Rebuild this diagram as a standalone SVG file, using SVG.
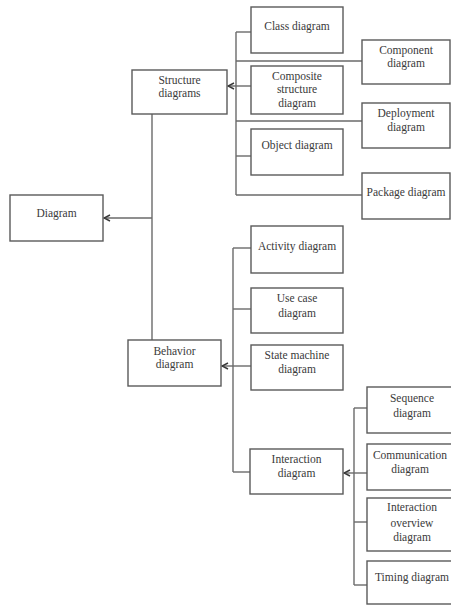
<svg xmlns="http://www.w3.org/2000/svg" width="451" height="606" viewBox="0 0 451 606">
  <style>
    .box { fill: #ffffff; stroke: #5a5a5a; stroke-width: 1.4; }
    .lbl { font-family: "Liberation Serif", "Times New Roman", serif; font-size: 11.5px; fill: #3a3a3a; text-anchor: middle; }
    .wire { fill: none; stroke: #6a6a6a; stroke-width: 1.4; }
  </style>
  <defs>
    <!-- small open arrowhead, tip at the end of the path -->
    <marker id="head" viewBox="0 0 8 8" refX="7" refY="4" markerWidth="8" markerHeight="8" markerUnits="userSpaceOnUse" orient="auto">
      <path d="M1,1 L7,4 L1,7" fill="none" stroke="#3a3a3a" stroke-width="1.5"/>
    </marker>
  </defs>
  <rect width="451" height="606" fill="#ffffff"/>

  <g id="connectors">
    <!-- root bus: structure / behavior to Diagram -->
    <path class="wire" d="M152,114 V340"/>
    <path class="wire" d="M152,218 H104" marker-end="url(#head)"/>

    <!-- structure bus -->
    <path class="wire" d="M236,32 V195"/>
    <path class="wire" d="M236,32 H251"/>
    <path class="wire" d="M236,61 H362"/>
    <path class="wire" d="M251,86 H228" marker-end="url(#head)"/>
    <path class="wire" d="M236,121 H362"/>
    <path class="wire" d="M236,156 H251"/>
    <path class="wire" d="M236,195 H362"/>

    <!-- behavior bus -->
    <path class="wire" d="M233,248 V472"/>
    <path class="wire" d="M233,248 H251"/>
    <path class="wire" d="M233,309 H251"/>
    <path class="wire" d="M251,366 H222" marker-end="url(#head)"/>
    <path class="wire" d="M233,472 H250"/>

    <!-- interaction bus -->
    <path class="wire" d="M354,408 V585"/>
    <path class="wire" d="M354,408 H367"/>
    <path class="wire" d="M367,473 H344" marker-end="url(#head)"/>
    <path class="wire" d="M354,522 H367"/>
    <path class="wire" d="M354,585 H367"/>
  </g>

  <g id="diagram">
    <rect class="box" x="10" y="195" width="93" height="46"/>
    <text class="lbl" x="56.5" y="217">Diagram</text>
  </g>

  <g id="structure">
    <rect class="box" x="132" y="70" width="95" height="44"/>
    <text class="lbl" x="179.5" y="84">Structure</text>
    <text class="lbl" x="179.5" y="97">diagrams</text>
  </g>

  <g id="behavior">
    <rect class="box" x="128" y="340" width="93" height="46"/>
    <text class="lbl" x="174.5" y="355">Behavior</text>
    <text class="lbl" x="174.5" y="368">diagram</text>
  </g>

  <g id="class">
    <rect class="box" x="251" y="7" width="92" height="46"/>
    <text class="lbl" x="297" y="30">Class diagram</text>
  </g>

  <g id="component">
    <rect class="box" x="362" y="40" width="88" height="44"/>
    <text class="lbl" x="406" y="54">Component</text>
    <text class="lbl" x="406" y="67">diagram</text>
  </g>

  <g id="composite">
    <rect class="box" x="251" y="66" width="92" height="48"/>
    <text class="lbl" x="297" y="80">Composite</text>
    <text class="lbl" x="297" y="93">structure</text>
    <text class="lbl" x="297" y="107">diagram</text>
  </g>

  <g id="deployment">
    <rect class="box" x="362" y="103" width="88" height="45"/>
    <text class="lbl" x="406" y="117">Deployment</text>
    <text class="lbl" x="406" y="131">diagram</text>
  </g>

  <g id="object">
    <rect class="box" x="251" y="129" width="92" height="46"/>
    <text class="lbl" x="297" y="149">Object diagram</text>
  </g>

  <g id="package">
    <rect class="box" x="362" y="173" width="88" height="46"/>
    <text class="lbl" x="406" y="196">Package diagram</text>
  </g>

  <g id="activity">
    <rect class="box" x="251" y="226" width="92" height="47"/>
    <text class="lbl" x="297" y="250">Activity diagram</text>
  </g>

  <g id="usecase">
    <rect class="box" x="251" y="288" width="92" height="45"/>
    <text class="lbl" x="297" y="302">Use case</text>
    <text class="lbl" x="297" y="317">diagram</text>
  </g>

  <g id="statemachine">
    <rect class="box" x="251" y="345" width="92" height="45"/>
    <text class="lbl" x="297" y="359">State machine</text>
    <text class="lbl" x="297" y="373">diagram</text>
  </g>

  <g id="interaction">
    <rect class="box" x="250" y="449" width="93" height="45"/>
    <text class="lbl" x="296.5" y="463">Interaction</text>
    <text class="lbl" x="296.5" y="477">diagram</text>
  </g>

  <g id="sequence">
    <rect class="box" x="367" y="387" width="90" height="46"/>
    <text class="lbl" x="412" y="402">Sequence</text>
    <text class="lbl" x="412" y="417">diagram</text>
  </g>

  <g id="communication">
    <rect class="box" x="367" y="444" width="90" height="46"/>
    <text class="lbl" x="410" y="459">Communication</text>
    <text class="lbl" x="410" y="473">diagram</text>
  </g>

  <g id="overview">
    <rect class="box" x="367" y="498" width="90" height="53"/>
    <text class="lbl" x="412" y="511">Interaction</text>
    <text class="lbl" x="412" y="527">overview</text>
    <text class="lbl" x="412" y="541">diagram</text>
  </g>

  <g id="timing">
    <rect class="box" x="367" y="561" width="90" height="43"/>
    <text class="lbl" x="412" y="581">Timing diagram</text>
  </g>
</svg>
